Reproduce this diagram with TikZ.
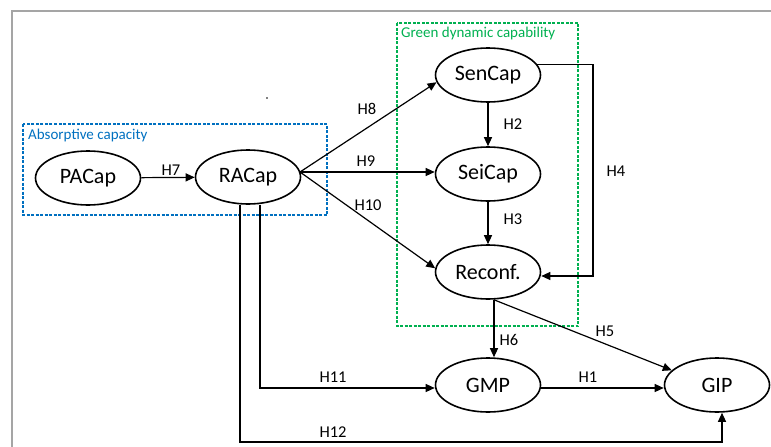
\documentclass[tikz,border=0pt]{standalone}
\usepackage{fontspec}
\setmainfont{Carlito}
\usetikzlibrary{arrows.meta,positioning,calc,shapes.geometric}
\definecolor{acblue}{RGB}{0,112,192}
\definecolor{gdgreen}{RGB}{0,176,80}
\definecolor{framegray}{RGB}{165,165,165}
\tikzset{
  construct/.style={draw, line width=1.6pt, ellipse, fill=white,
    minimum width=105pt, minimum height=54pt, inner sep=0pt,
    font=\fontsize{22}{24}\selectfont},
  link/.style={line width=1.2pt, -{Triangle[length=9pt,width=8pt]}},
  hlabel/.style={font=\fontsize{16.5}{18}\selectfont, inner sep=0pt},
  groupbox/.style={dashed, line width=1.2pt, dash pattern=on 3pt off 1.5pt},
  grouplabel/.style={font=\fontsize{15}{17}\selectfont, anchor=west, inner sep=0pt}
}
\begin{document}
\begin{tikzpicture}[x=1pt,y=-1pt]
\useasboundingbox (0,0) rectangle (771,447);
% outer frame
\draw[framegray, line width=1.4pt] (12,470) -- (12,11) -- (790,11);

% group boxes
\draw[groupbox, acblue] (23,124) rectangle (327,215);
\node[grouplabel, text=acblue] (lab-ac) at (28,135) {Absorptive capacity};
\draw[groupbox, gdgreen] (397,23) rectangle (578,326);
\node[grouplabel, text=gdgreen] (lab-gd) at (401,34) {Green dynamic capability};

% constructs
\node[construct] (pacap)  at (88,178)  {PACap};
\node[construct] (racap)  at (248,177) {RACap};
\node[construct] (sencap) at (488,75)  {SenCap};
\node[construct] (seicap) at (488,174) {SeiCap};
\node[construct] (reconf) at (488,272) {Reconf.};
\node[construct] (gmp)    at (488,385) {GMP};
\node[construct] (gip)    at (717,385) {GIP};

% helper points for routed connectors
\coordinate (racapout) at (300,172);
\coordinate (h4corner) at (593,276);
\coordinate (h12corner) at (722,442);

% connectors
\draw[link] (pacap) -- (racap);
\draw[link] (racapout) -- (sencap.188);
\draw[link] (racapout) -- (seicap.west |- racapout);
\draw[link] (racapout) -- (reconf.176);
\draw[link] (sencap) -- (seicap);
\draw[link] (seicap) -- (reconf);
\draw[link] (sencap.12) -| (h4corner) -- (reconf.east |- h4corner);
\draw[link] ([xshift=6pt]reconf.south) -- ([xshift=6pt]gmp.north);
\draw[link] ([xshift=6pt]reconf.south) -- (gip.162);
\draw[link] (gmp.east |- 0,388) -- (gip.west |- 0,388);
\draw[link] ([xshift=12pt]racap.south) |- (gmp.west |- 0,388);
\draw[link] ([xshift=-8pt]racap.south) |- (h12corner) -- ([xshift=5pt]gip.south);

% hypothesis labels
\node[hlabel] (l7)  at (171,170) {H7};
\node[hlabel] (l8)  at (367,109) {H8};
\node[hlabel] (l9)  at (366,161) {H9};
\node[hlabel] (l10) at (368,205) {H10};
\node[hlabel] (l2)  at (513,124) {H2};
\node[hlabel] (l3)  at (513,219) {H3};
\node[hlabel] (l4)  at (616,171) {H4};
\node[hlabel] (l6)  at (509,340) {H6};
\node[hlabel] (l5)  at (605,331) {H5};
\node[hlabel] (l1)  at (588,377) {H1};
\node[hlabel] (l11) at (333,377) {H11};
\node[hlabel] (l12) at (333,432) {H12};

% stray mark
\fill (267,98) circle (0.9pt);
\end{tikzpicture}
\end{document}
